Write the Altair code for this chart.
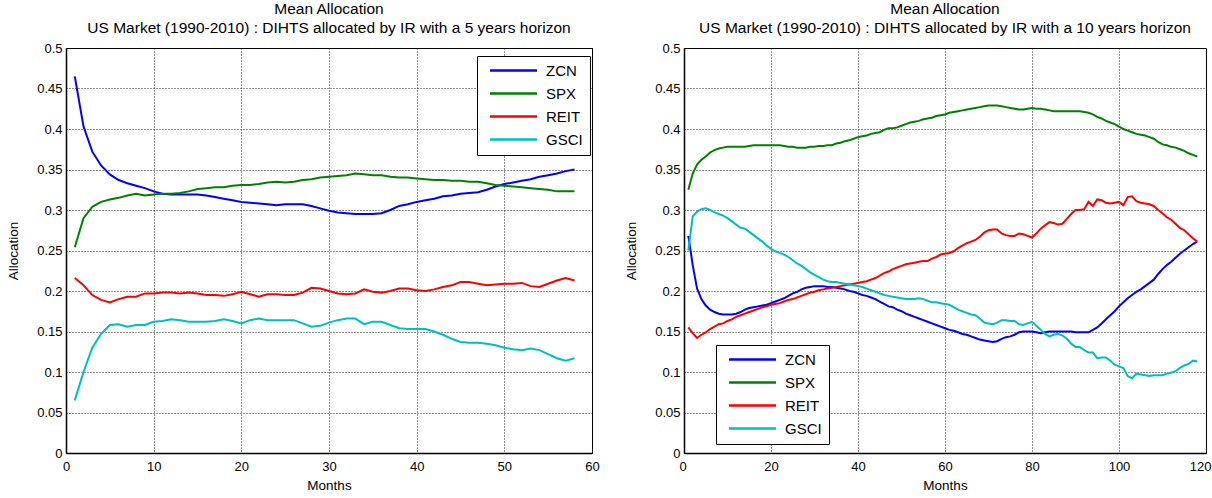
import altair as alt
import pandas as pd

FONT = "Liberation Sans"
series_names = ["ZCN", "SPX", "REIT", "GSCI"]
series_colors = ["#0000FF", "#008000", "#FF0000", "#00BFBF"]

months_5 = list(range(1, 59))
zcn_5 = [.465, .403, .372, .355, .344, .337, .333, .330, .327, .323, .320, .319, .319, .319, .319, .318, .316, .314, .312, .310,
         .309, .308, .307, .306, .307, .307, .307, .305, .302, .299, .297, .296, .295, .295, .295, .296, .300, .305, .307, .310,
         .312, .314, .317, .318, .320, .321, .322, .325, .329, .332, .334, .336, .338, .341, .343, .345, .348, .350]
spx_5 = [.254, .290, .304, .310, .313, .315, .318, .320, .318, .319, .320, .320, .321, .323, .326, .327, .328, .328, .330, .331,
         .331, .332, .334, .335, .334, .335, .337, .338, .340, .341, .342, .343, .345, .344, .343, .343, .341, .340, .340, .339,
         .338, .337, .337, .336, .336, .335, .335, .333, .331, .330, .329, .328, .327, .326, .325, .323, .323, .323]
reit_5 = [.216, .207, .195, .189, .186, .190, .193, .193, .197, .197, .198, .198, .197, .198, .197, .195, .195, .194, .196, .199,
          .196, .193, .196, .196, .195, .195, .198, .204, .203, .200, .197, .196, .197, .202, .199, .198, .200, .203, .203, .201,
          .200, .202, .205, .207, .211, .211, .209, .207, .208, .209, .209, .210, .206, .205, .209, .213, .216, .213]
gsci_5 = [.065, .100, .130, .147, .158, .159, .156, .158, .158, .162, .163, .165, .164, .162, .162, .162, .163, .165, .163, .160,
          .164, .166, .164, .164, .164, .164, .160, .156, .157, .161, .164, .166, .166, .159, .162, .162, .158, .154, .153, .153,
          .153, .150, .146, .141, .137, .136, .136, .135, .133, .130, .128, .127, .129, .127, .122, .117, .114, .117]

months_10 = list(range(1, 119))
zcn_10 = [.268, .232, .203, .190, .182, .177, .174, .172, .171, .171, .171, .172, .174, .177, .179, .180, .181, .182, .183, .185,
          .187, .189, .191, .194, .197, .199, .202, .204, .205, .206, .206, .206, .205, .205, .204, .203, .202, .200, .199, .197,
          .195, .194, .192, .190, .187, .184, .181, .180, .177, .175, .172, .170, .168, .166, .164, .162, .160, .158, .156, .154,
          .152, .151, .149, .147, .146, .144, .142, .140, .139, .138, .137, .138, .141, .143, .144, .146, .149, .150, .150, .150,
          .149, .148, .149, .150, .150, .150, .150, .150, .150, .149, .149, .149, .149, .152, .155, .160, .165, .170, .175, .181,
          .186, .191, .195, .199, .202, .206, .210, .214, .221, .227, .232, .236, .241, .246, .250, .254, .258, .261]
spx_10 = [.325, .345, .356, .362, .366, .371, .374, .376, .377, .378, .378, .378, .378, .378, .379, .380, .380, .380, .380, .380,
          .380, .380, .379, .378, .378, .377, .377, .377, .378, .378, .379, .379, .380, .380, .382, .383, .385, .386, .388, .390,
          .391, .392, .394, .395, .396, .399, .401, .401, .402, .404, .406, .408, .409, .410, .412, .413, .414, .416, .417, .418,
          .420, .421, .422, .423, .424, .425, .426, .427, .428, .429, .429, .429, .428, .427, .426, .425, .424, .424, .425, .426,
          .425, .425, .424, .423, .422, .422, .422, .422, .422, .422, .422, .421, .420, .418, .415, .413, .410, .408, .406, .403,
          .400, .398, .396, .394, .393, .392, .390, .388, .384, .381, .380, .378, .377, .375, .373, .370, .368, .366]
reit_10 = [.155, .148, .142, .146, .149, .153, .156, .159, .160, .163, .165, .168, .170, .172, .174, .176, .178, .180, .181, .183,
           .184, .185, .187, .189, .190, .192, .194, .196, .198, .199, .201, .202, .203, .204, .205, .206, .207, .208, .209, .210,
           .211, .212, .214, .216, .219, .222, .224, .227, .229, .231, .233, .234, .235, .236, .237, .237, .240, .242, .245, .246,
           .247, .249, .253, .256, .259, .261, .263, .267, .272, .275, .276, .276, .271, .269, .268, .268, .271, .270, .268, .266,
           .271, .277, .281, .285, .284, .282, .283, .289, .295, .300, .300, .301, .310, .305, .313, .312, .309, .308, .309, .310,
           .306, .316, .317, .311, .309, .308, .307, .305, .300, .296, .291, .288, .283, .278, .275, .270, .265, .261]
gsci_10 = [.250, .292, .298, .301, .302, .300, .297, .295, .293, .290, .286, .282, .278, .277, .273, .269, .265, .261, .256, .252,
           .249, .247, .245, .242, .238, .234, .231, .227, .223, .220, .217, .214, .212, .211, .211, .210, .209, .208, .207, .206,
           .205, .203, .201, .199, .197, .195, .194, .193, .192, .191, .190, .190, .190, .191, .190, .188, .186, .186, .185, .184,
           .183, .180, .177, .175, .173, .171, .170, .166, .161, .160, .159, .161, .164, .164, .163, .163, .159, .158, .160, .162,
           .157, .152, .147, .144, .146, .147, .145, .141, .135, .131, .131, .127, .124, .124, .117, .118, .118, .114, .109, .107,
           .105, .095, .092, .098, .097, .096, .095, .096, .096, .096, .098, .099, .101, .105, .108, .110, .114, .113]

y_ticks = [0, 0.05, 0.1, 0.15, 0.2, 0.25, 0.3, 0.35, 0.4, 0.45, 0.5]
x_ticks_5 = [0, 10, 20, 30, 40, 50, 60]
x_ticks_10 = [0, 20, 40, 60, 80, 100, 120]


def make_df(months, cols):
    rows = []
    for name, vals in zip(series_names, cols):
        for m, v in zip(months, vals):
            rows.append({"Months": m, "Allocation": v, "Asset": name})
    return pd.DataFrame(rows)


def panel(df, xmax, xticks, title2, lx, ly, w, flush):
    legend = alt.Legend(title=None, orient="none", legendX=lx, legendY=ly,
                        strokeColor="black", fillColor="white", padding=7,
                        symbolType="M-4,0H4", symbolSize=138, symbolStrokeWidth=2.5,
                        symbolOffset=22, labelOffset=25,
                        labelFont=FONT, labelFontSize=15, labelColor="black",
                        rowPadding=7)
    xaxis = alt.Axis(values=xticks, title="Months", labelFlush=True, labelFlushOffset=5) if flush else \
        alt.Axis(values=xticks, title="Months")
    return alt.Chart(df, title=alt.Title(["Mean Allocation", title2], font=FONT, fontSize=15.5,
                                         fontWeight="normal", color="black", anchor="middle",
                                         lineHeight=19, offset=6)).mark_line(strokeWidth=2).encode(
        x=alt.X("Months:Q", scale=alt.Scale(domain=[0, xmax], nice=False), axis=xaxis),
        y=alt.Y("Allocation:Q", scale=alt.Scale(domain=[0, 0.5], nice=False),
                axis=alt.Axis(values=y_ticks, format="~g", title="Allocation")),
        color=alt.Color("Asset:N", scale=alt.Scale(domain=series_names, range=series_colors),
                        legend=legend, sort=series_names),
    ).properties(width=w, height=405)


left = panel(make_df(months_5, [zcn_5, spx_5, reit_5, gsci_5]), 60, x_ticks_5,
             "US Market (1990-2010) : DIHTS  allocated by IR with a 5 years horizon", 411, 8, 526, False)
right = panel(make_df(months_10, [zcn_10, spx_10, reit_10, gsci_10]), 120, x_ticks_10,
              "US Market (1990-2010) : DIHTS  allocated by IR with a 10 years horizon", 32, 297, 522, True)

chart = alt.hconcat(left, right, spacing=24).resolve_scale(color="independent").resolve_legend(
    color="independent").properties(padding={"left": 6, "top": 1, "right": 0, "bottom": 0}).configure(
    background="white"
).configure_axis(
    labelFont=FONT, labelFontSize=13, labelColor="black", titleFont=FONT, titleFontSize=13.5,
    titleFontWeight="normal", titleColor="black", tickSize=0, labelPadding=4,
    grid=True, gridColor="black", gridDash=[1, 2], gridOpacity=0.85, gridWidth=1,
    domainColor="black", domainWidth=1.5
).configure_axisX(labelFlush=False, labelPadding=7, titlePadding=5).configure_axisY(titlePadding=16).configure_view(
    stroke="black", strokeWidth=1
)

chart.save("out.html", embed_options={"renderer": "svg", "actions": False})
